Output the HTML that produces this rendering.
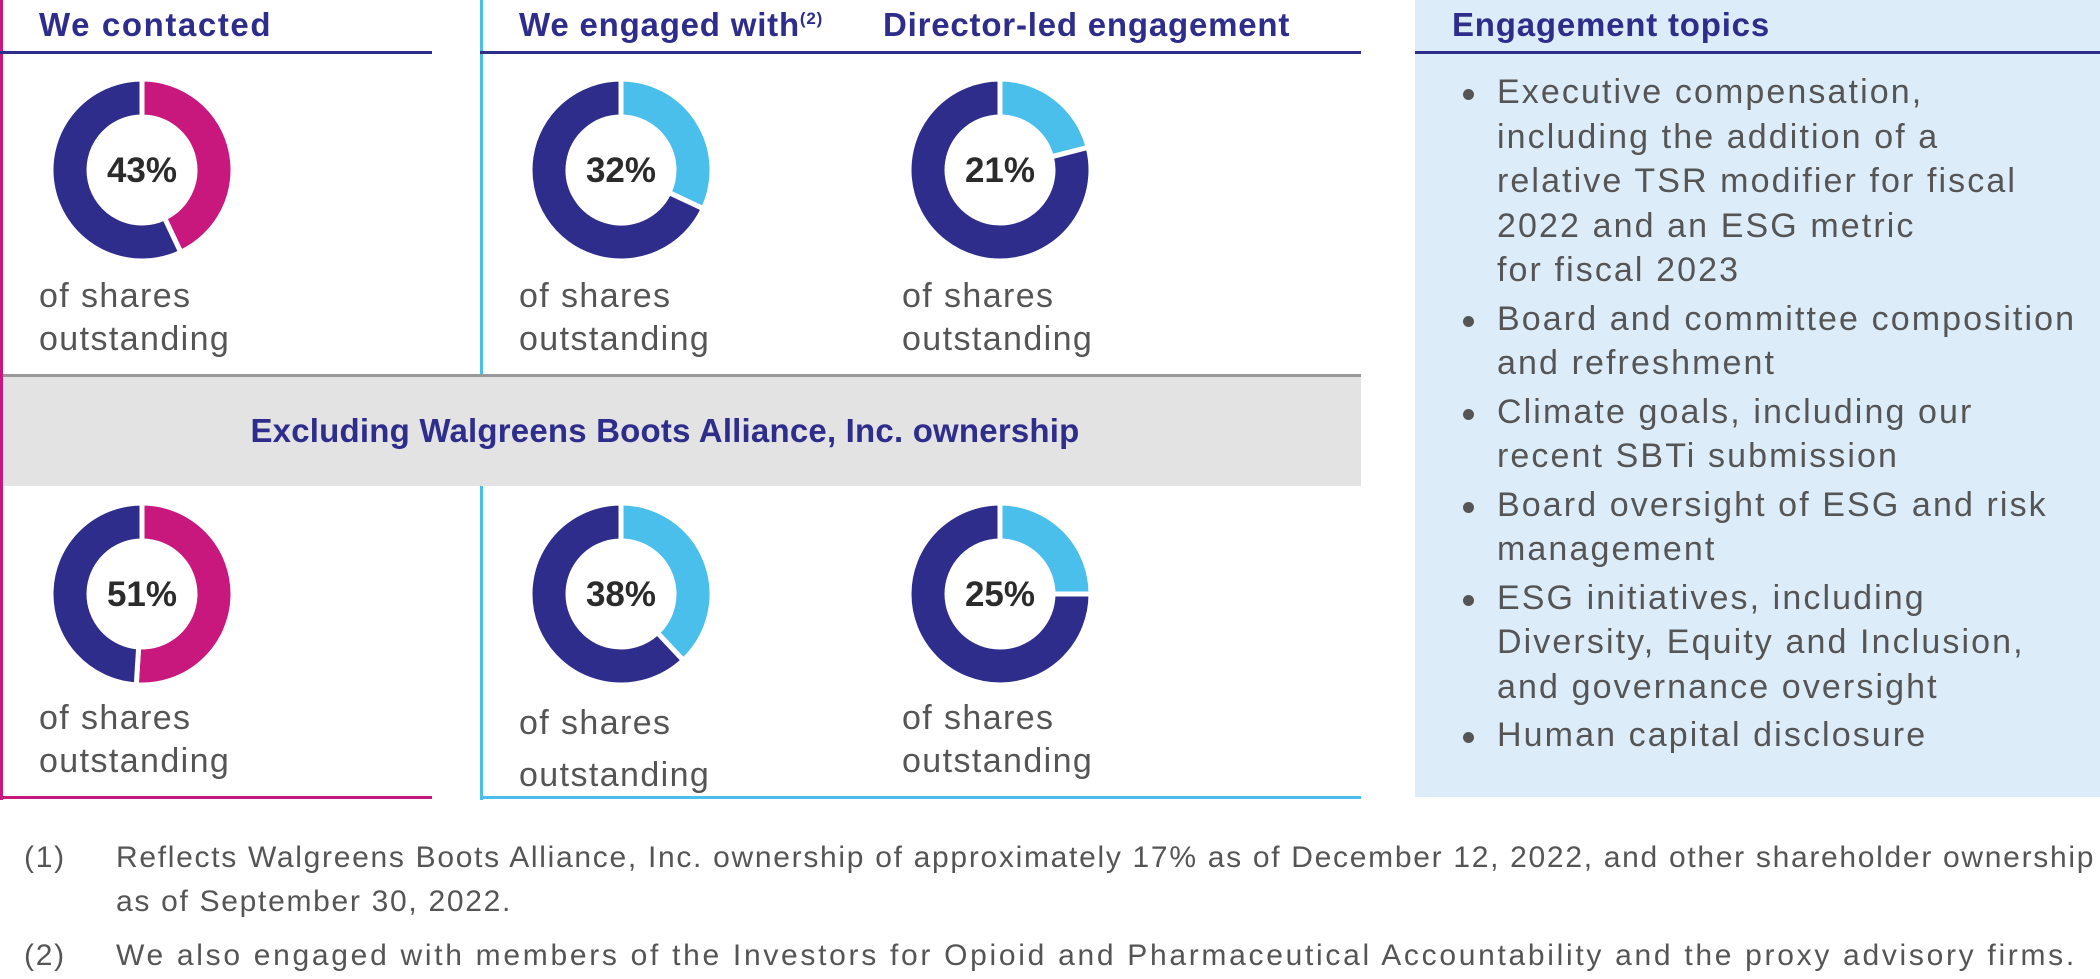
<!DOCTYPE html>
<html><head><meta charset="utf-8"><style>
body{margin:0;width:2100px;height:979px;background:#fff;font-family:"Liberation Sans",sans-serif;position:relative;overflow:hidden}
.a{position:absolute;white-space:nowrap}
.h{font-weight:bold;color:#2e2d8c;font-size:33px;letter-spacing:0.8px}
.t{color:#555;font-size:34px;line-height:43px;letter-spacing:1.4px}
.pct{font-weight:bold;font-size:35px;fill:#2b2b2b;font-family:"Liberation Sans",sans-serif}
ul{list-style:none;margin:0;padding:0}
li{position:relative;padding-left:34px;margin-bottom:4px;color:#555;font-size:34px;line-height:44.5px;letter-spacing:2.1px}
li:before{content:"";position:absolute;left:0;top:19px;width:11px;height:11px;border-radius:50%;background:#555}
.fn{color:#555;font-size:30px;line-height:44px;letter-spacing:1.7px}
</style></head><body>
<div class="a" style="left:1415px;top:0;width:685px;height:797px;background:#dcedf9"></div>
<div class="a" style="left:480px;top:0;width:3px;height:800px;background:#4bbfec"></div>
<div class="a" style="left:0;top:374px;width:1361px;height:112px;background:#e4e3e3;border-top:3px solid #999;box-sizing:border-box"></div>
<div class="a" style="left:0;top:0;width:3px;height:800px;background:#c8187e"></div>
<div class="a" style="left:0;top:796px;width:432px;height:3px;background:#c8187e"></div>
<div class="a" style="left:480px;top:796px;width:881px;height:3px;background:#4bbfec"></div>
<div class="a" style="left:0;top:51px;width:432px;height:3px;background:#2e2d8c"></div>
<div class="a" style="left:480px;top:51px;width:881px;height:3px;background:#2e2d8c"></div>
<div class="a" style="left:1415px;top:51px;width:685px;height:3px;background:#2e2d8c"></div>

<div class="a h" style="left:39px;top:6px;letter-spacing:1.6px">We contacted</div>
<div class="a h" style="left:519px;top:6px">We engaged with<sup style="font-size:17px">(2)</sup></div>
<div class="a h" style="left:883px;top:6px">Director-led engagement</div>
<div class="a h" style="left:1452px;top:6px">Engagement topics</div>
<div class="a h" style="left:0;width:1330px;text-align:center;top:412px;letter-spacing:0.2px">Excluding Walgreens Boots Alliance, Inc. ownership</div>

<svg class="a" style="left:0;top:0" width="1415" height="800" id="donuts"></svg>

<div class="a t" style="left:39px;top:275px">of shares<br>outstanding</div>
<div class="a t" style="left:519px;top:275px">of shares<br>outstanding</div>
<div class="a t" style="left:902px;top:275px">of shares<br>outstanding</div>
<div class="a t" style="left:39px;top:697px">of shares<br>outstanding</div>
<div class="a t" style="left:519px;top:697px;line-height:52px">of shares<br>outstanding</div>
<div class="a t" style="left:902px;top:697px">of shares<br>outstanding</div>

<ul class="a" style="left:1463px;top:70px;white-space:nowrap;width:630px">
<li>Executive compensation,<br>including the addition of a<br>relative TSR modifier for fiscal<br>2022 and an ESG metric<br>for fiscal 2023</li>
<li>Board and committee composition<br>and refreshment</li>
<li>Climate goals, including our<br>recent SBTi submission</li>
<li>Board oversight of ESG and risk<br>management</li>
<li>ESG initiatives, including<br>Diversity, Equity and Inclusion,<br>and governance oversight</li>
<li>Human capital disclosure</li>
</ul>

<div class="a fn" style="left:24px;top:836px">(1)</div>
<div class="a fn" style="left:116px;top:836px">Reflects Walgreens Boots Alliance, Inc. ownership of approximately 17% as of December 12, 2022, and other shareholder ownership<br>as of September 30, 2022.</div>
<div class="a fn" style="left:24px;top:934px">(2)</div>
<div class="a fn" style="left:116px;top:934px;letter-spacing:2.7px">We also engaged with members of the Investors for Opioid and Pharmaceutical Accountability and the proxy advisory firms.</div>

<script>
const labels=["43%","32%","21%","51%","38%","25%"];
const values=[43,32,21,51,38,25];
const accents=["#c8187e","#4bbfec","#4bbfec","#c8187e","#4bbfec","#4bbfec"];
const cx=[142,621,1000,142,621,1000], cy=[170,170,170,594,594,594];
const R=91,r=53,NS="http://www.w3.org/2000/svg",svg=document.getElementById('donuts');
function pt(c,y,rad,f){const a=f*2*Math.PI;return [c+rad*Math.sin(a),y-rad*Math.cos(a)];}
function arc(c,y,f0,f1){const L=(f1-f0)>0.5?1:0;const a=pt(c,y,R,f0),b=pt(c,y,R,f1),d=pt(c,y,r,f1),e=pt(c,y,r,f0);
return `M${a}A${R},${R} 0 ${L} 1 ${b}L${d}A${r},${r} 0 ${L} 0 ${e}Z`;}
values.forEach((v,i)=>{
 const f=v/100;
 const p1=document.createElementNS(NS,'path');p1.setAttribute('d',arc(cx[i],cy[i],0,f));p1.setAttribute('fill',accents[i]);p1.setAttribute('stroke','#fff');p1.setAttribute('stroke-width','5');
 
 
 const p2=document.createElementNS(NS,'path');p2.setAttribute('d',arc(cx[i],cy[i],f,1));p2.setAttribute('fill','#2e2d8c');p2.setAttribute('stroke','#fff');p2.setAttribute('stroke-width','5');
 
 
 const t=document.createElementNS(NS,'text');t.setAttribute('x',cx[i]);t.setAttribute('y',cy[i]+12);t.setAttribute('text-anchor','middle');t.setAttribute('class','pct');t.textContent=labels[i];
 
 
 svg.appendChild(p1);svg.appendChild(p2);svg.appendChild(t);
});
</script>
</body></html>
